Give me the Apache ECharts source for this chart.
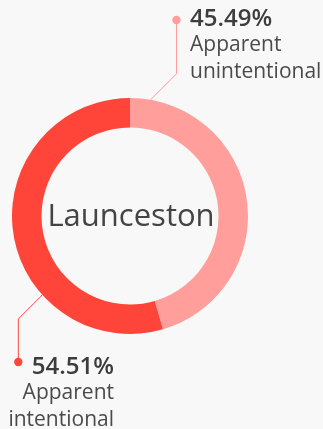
<!DOCTYPE html>
<html>
<head>
<meta charset="utf-8">
<script src="https://cdn.jsdelivr.net/npm/echarts@6/dist/echarts.min.js"></script>
<style>
  html, body { margin: 0; padding: 0; background: #f8f8f8; }
  #chart { width: 323px; height: 429px; }
</style>
</head>
<body>
<div id="chart"></div>
<script>
// Share of cases by intent
const regionName = 'Launceston';
const categories = ['Apparent unintentional', 'Apparent intentional'];
const nameLines = [['Apparent', 'unintentional'], ['Apparent', 'intentional']];
const shares = [45.49, 54.51];
const colors = ['#ff9e9a', '#ff4539'];

const FONT = '"Open Sans", "Noto Sans", sans-serif';
const CX = 130, CY = 216, R_IN = 88.5, R_OUT = 118;
const LABEL_W = 150;

// Leader-line geometry: where each line leaves the ring (degrees clockwise from 12 o'clock),
// length of the 45° leg, the y of the dot at the end of the vertical leg,
// and where the text block sits next to that dot.
const leaders = [
  { angle: 10, leg: 26, side: 1, dotY: 20, textX: 190, textY: 5.7, align: 'left' },
  { angle: 228, leg: 24, side: -1, dotY: 362, textX: 114, textY: 353.7, align: 'right' }
];

function leaderPoints(i) {
  const g = leaders[i];
  const a = g.angle * Math.PI / 180;
  const ax = CX + R_OUT * Math.sin(a);
  const ay = CY - R_OUT * Math.cos(a);
  const ex = ax + g.side * g.leg;
  const ey = ay + (g.side > 0 ? -g.leg : g.leg);
  return [[ax, ay], [ex, ey], [ex, g.dotY]];
}

function labelFor(i) {
  const al = leaders[i].align;
  return {
    show: true,
    width: LABEL_W,
    overflow: 'none',
    formatter: '{pct|' + shares[i].toFixed(2) + '%}\n' +
      nameLines[i].map(s => '{name|' + s + '}').join('\n'),
    rich: {
      pct: { fontFamily: FONT, fontSize: 24, fontWeight: 600, color: '#3d3d3d', lineHeight: 26, align: al },
      name: { fontFamily: FONT, fontSize: 21, color: '#4a4a4a', lineHeight: 27, align: al }
    }
  };
}

const chart = echarts.init(document.getElementById('chart'), null, { renderer: 'canvas' });

// End-of-leader dots
const dots = categories.map((c, i) => {
  const p = leaderPoints(i)[2];
  return { type: 'circle', silent: true, shape: { cx: p[0], cy: p[1], r: 4.2 }, style: { fill: colors[i] }, z: 10 };
});

chart.setOption({
  backgroundColor: '#f8f8f8',
  animation: false,
  title: {
    text: regionName,
    left: CX + 1,
    top: CY + 1,
    padding: 0,
    textAlign: 'center',
    textVerticalAlign: 'middle',
    textStyle: { fontFamily: FONT, fontSize: 31, fontWeight: 'normal', color: '#444444' }
  },
  graphic: dots,
  series: [{
    type: 'pie',
    center: [CX, CY],
    radius: [R_IN, R_OUT],
    startAngle: 90,
    clockwise: true,
    silent: true,
    label: { show: true },
    labelLine: { show: true, smooth: false, lineStyle: { width: 1 } },
    labelLayout: function (p) {
      const i = p.dataIndex;
      const g = leaders[i];
      return { x: g.textX, y: g.textY, align: g.align, verticalAlign: 'top', labelLinePoints: leaderPoints(i) };
    },
    data: categories.map((c, i) => ({
      name: c,
      value: shares[i],
      itemStyle: { color: colors[i] },
      label: labelFor(i),
      labelLine: { lineStyle: { color: colors[i], width: 1 } }
    }))
  }]
});
</script>
</body>
</html>
